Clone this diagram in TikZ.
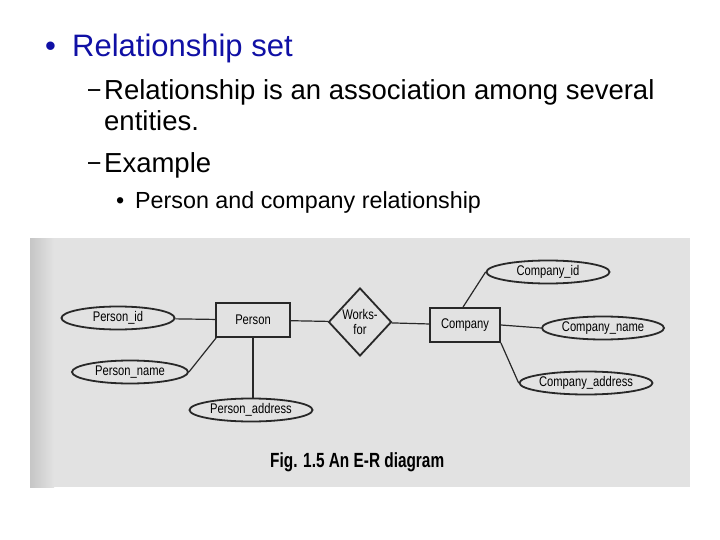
\documentclass[tikz,border=0pt]{standalone}
\usepackage{fontspec}
\setmainfont{Liberation Sans}
\newfontfamily\scanfont[FakeStretch=0.8]{Liberation Sans}
\newfontfamily\capfont[FakeStretch=0.75]{Liberation Sans}
\usepackage{xcolor}
\usetikzlibrary{shapes.geometric}
\definecolor{slideblue}{RGB}{16,16,165}
\definecolor{scan}{RGB}{226,226,226}
\definecolor{ink}{RGB}{40,40,40}
\newcommand{\subdash}{\makebox[16pt][l]{\scanfont\raisebox{2.5pt}{–}}}

\begin{document}
\begin{tikzpicture}[
x=1pt,y=-1pt,
textline/.style={anchor=base west,inner sep=0pt},
entity/.style={draw=ink,line width=1.8pt,minimum height=34pt,font=\scanfont\fontsize{14}{16}\selectfont},
attr/.style={draw=ink,ellipse,line width=1.8pt,minimum height=23pt,inner sep=0pt,font=\scanfont\fontsize{14}{16}\selectfont},
rel/.style={draw=ink,diamond,line width=1.8pt,minimum width=63pt,minimum height=68pt,inner sep=0pt,align=center,font=\scanfont\fontsize{14}{15}\selectfont},
link/.style={ink,line width=1.2pt},
]
\useasboundingbox (0,0) rectangle (720,540);
\fill[white] (0,0) rectangle (720,540);
% slide text
\node[textline,font=\fontsize{31}{36}\selectfont,text=slideblue] (title) at (45,57) {\makebox[27pt][l]{•}Relationship set};
\node[textline,font=\fontsize{27.5}{32}\selectfont] (def) at (88,100) {\subdash Relationship is an association among several};
\node[textline,font=\fontsize{27.5}{32}\selectfont] (defb) at (104,131) {entities.};
\node[textline,font=\fontsize{27.5}{32}\selectfont] (ex) at (88,173) {\subdash Example};
\node[textline,font=\fontsize{23.3}{28}\selectfont] (exa) at (116,209) {\makebox[19pt][l]{•}Person and company relationship};
% scanned figure
\fill[scan] (30,238) rectangle (690,487);
\shade[left color=gray!45,right color=scan] (30,238) rectangle (54,487);
\node[entity,minimum width=74pt] (person) at (253,320) {Person};
\node[rel] (works) at (360,322) {Works-\\for};
\node[entity,minimum width=70pt] (company) at (465,325) {Company};
\node[attr,minimum width=113pt] (pid) at (118,318) {Person\_id};
\node[attr,minimum width=116pt] (pname) at (130,372) {Person\_name};
\node[attr,minimum width=123pt] (paddr) at (251,410) {Person\_address};
\node[attr,minimum width=123pt] (cid) at (548,272) {Company\_id};
\node[attr,minimum width=122pt] (cname) at (603,328) {Company\_name};
\node[attr,minimum width=118pt] (caddr) at (586,383) {Company\_address};
\node[textline,font=\capfont\fontsize{20.5}{24}\selectfont\bfseries] (caption) at (270,467) {Fig. 1.5 An E-R diagram};
\draw[link] (pid) -- (person);
\draw[link] (pname.east) -- ([xshift=1pt]person.south west);
\draw[link] (person.south) -- (person.south |- paddr.north);
\draw[link] (person) -- (works);
\draw[link] (works) -- (company);
\draw[link] ([xshift=-2pt]company.north) -- (cid.west);
\draw[link] (company.east) -- (cname.west);
\draw[link] (company.south east) -- (caddr.west);
\end{tikzpicture}
\end{document}
